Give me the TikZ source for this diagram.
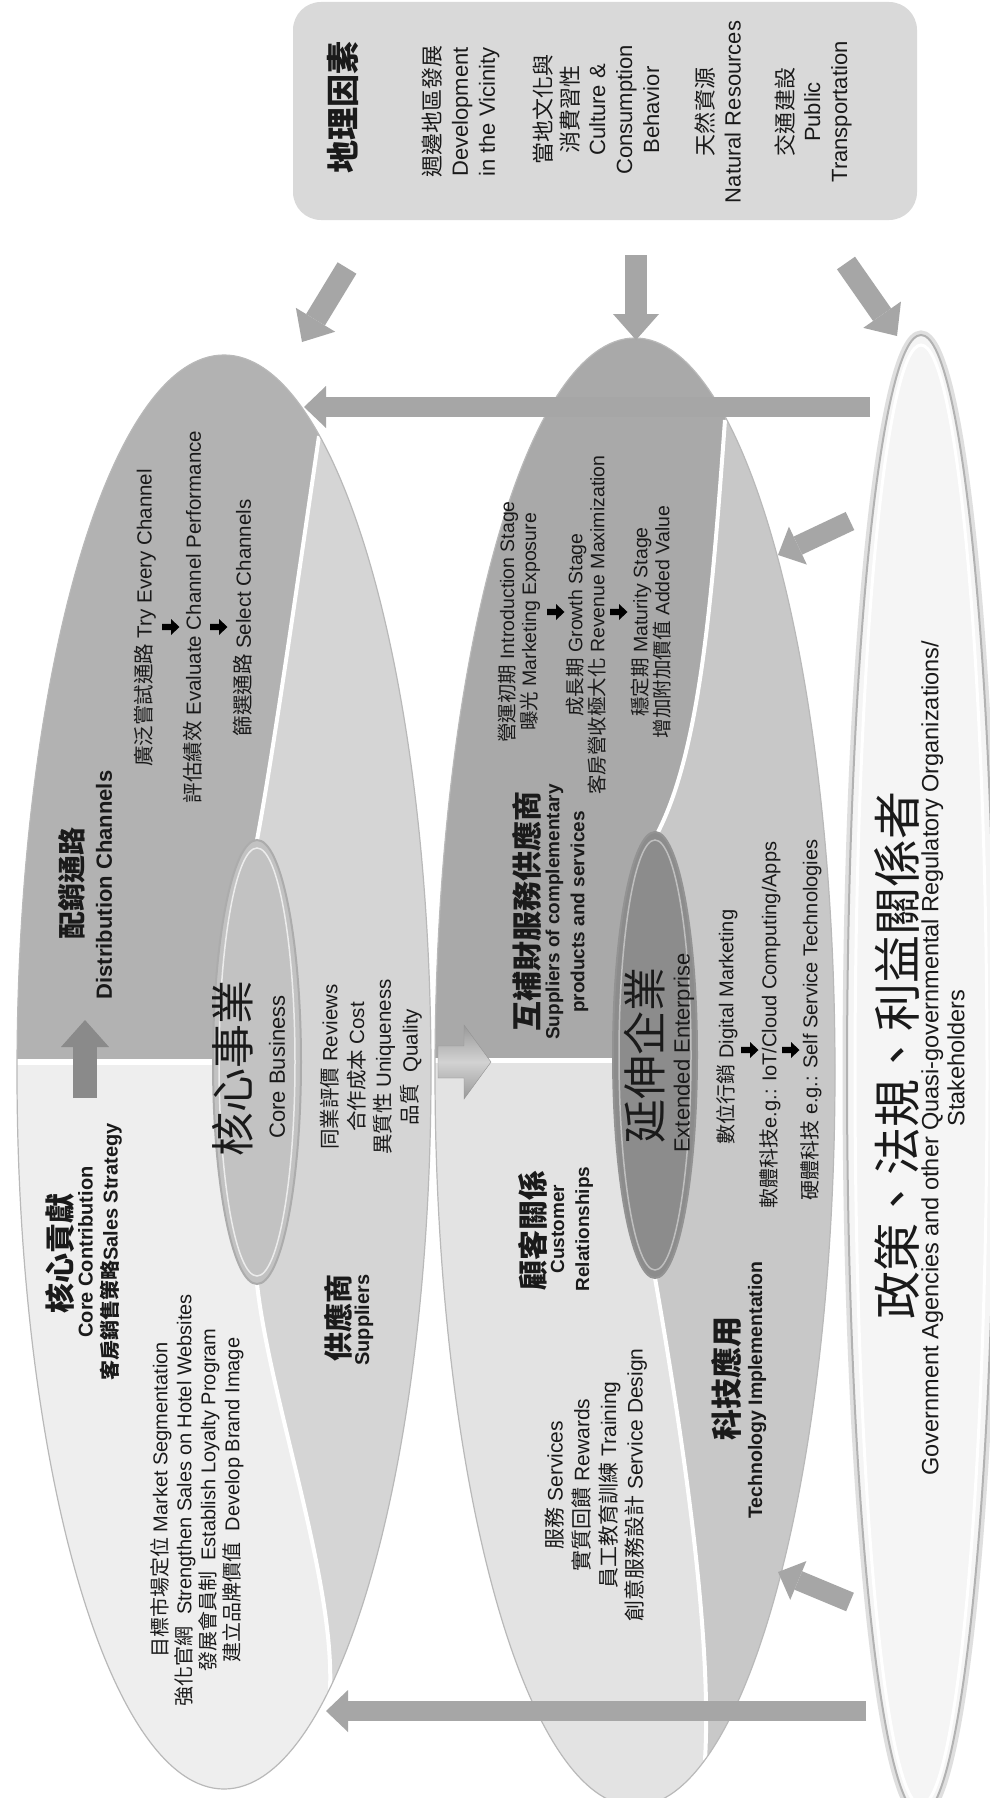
\documentclass[tikz,border=0pt]{standalone}
\usepackage{fontspec}
\setmainfont{Liberation Sans}
\newfontfamily\cjk{Noto Sans CJK TC}
\usetikzlibrary{arrows.meta}
\definecolor{boxgray}{HTML}{D9D9D9}
\definecolor{arrgray}{HTML}{A6A6A6}
\definecolor{darrgray}{HTML}{8A8A8A}
\definecolor{distgray}{HTML}{B2B2B2}
\definecolor{contgray}{HTML}{EEEEEE}
\definecolor{supgray}{HTML}{D5D5D5}
\definecolor{coregray}{HTML}{C2C2C2}
\definecolor{compgray}{HTML}{A9A9A9}
\definecolor{custgray}{HTML}{E3E3E3}
\definecolor{techgray}{HTML}{C8C8C8}
\definecolor{extgray}{HTML}{8C8C8C}
\definecolor{govgray}{HTML}{F5F5F5}
\definecolor{ink}{HTML}{1A1A1A}
\newcommand\zh[1]{{\cjk #1}}
\newcommand\fs[2]{\fontsize{#1}{#2}\selectfont}
\tikzset{
  txt/.style={rotate=90, align=center, inner sep=0pt, text=ink},
  blockarrow/.style={draw=arrgray, line width=22pt, -{Triangle[width=46pt,length=26pt,line width=0pt]}},
  harrow/.style={draw=arrgray, line width=20pt, -{Triangle[width=42pt,length=22pt,line width=0pt]}},
  uparrow/.style={draw=darrgray, line width=24pt, -{Triangle[width=48pt,length=27pt,line width=0pt]}},
  smallarrow/.pic={\fill[black] (-8,-3.2) -- (1,-3.2) -- (1,-8) -- (9.5,0) -- (1,8) -- (1,3.2) -- (-8,3.2) -- cycle;},
  hilite/.style={white, line width=4pt},
  rim/.style={gray!55, line width=1.2pt},
}
\begin{document}
\begin{tikzpicture}[x=1pt,y=-1pt]
\useasboundingbox (0,0) rectangle (989,1798);
\fill[white] (0,0) rectangle (989,1798);

% ---------- geographic factors box
\node[fill=boxgray, rounded corners=28pt, minimum width=624pt, minimum height=218pt, inner sep=0pt] (geo) at (605,111) {};

% ---------- left shape (E1)
\begin{scope}
  \clip (224,1072) ellipse [x radius=207, y radius=717];
  \fill[supgray] (0,300) rectangle (450,1800);
  \begin{scope}
    \clip (0,300) -- (319,300) -- (319,436) .. controls (295,600) and (272,760) .. (257,840) -- (257,1284) .. controls (270,1400) and (335,1580) .. (330,1690) -- (330,1800) -- (0,1800) -- cycle;
    \fill[distgray] (0,300) rectangle (450,1062);
    \fill[contgray] (0,1062) rectangle (450,1800);
  \end{scope}
  \draw[hilite] (319,436) .. controls (295,600) and (272,760) .. (257,840);
  \draw[hilite] (257,1284) .. controls (270,1400) and (335,1580) .. (330,1690);
  \draw[gray!60, line width=2pt] (0,1056) -- (257,1056);
  \draw[white, line width=6pt] (0,1062) -- (257,1062);
\end{scope}
\draw[rim] (224,1072) ellipse [x radius=207, y radius=717];

% ---------- middle shape (E2)
\begin{scope}
  \clip (635,1072) ellipse [x radius=200, y radius=734];
  \fill[techgray] (400,300) rectangle (850,1820);
  \begin{scope}
    \clip (400,300) -- (725,300) -- (725,420) .. controls (712,600) and (700,750) .. (658,832) -- (655,1278) .. controls (685,1450) and (712,1640) .. (705,1760) -- (705,1820) -- (400,1820) -- cycle;
    \fill[compgray] (400,300) rectangle (850,1060);
    \fill[custgray] (400,1060) rectangle (850,1820);
  \end{scope}
  \draw[hilite] (725,420) .. controls (712,600) and (700,750) .. (658,832);
  \draw[hilite] (655,1278) .. controls (685,1450) and (712,1640) .. (705,1760);
  \draw[white, line width=5pt] (400,1060) -- (655,1060);
\end{scope}
\draw[rim] (635,1072) ellipse [x radius=200, y radius=734];

% ---------- right shape (E3)
\draw[gray!25, line width=9pt] (921,1075) ellipse [x radius=74, y radius=740];
\fill[govgray] (921,1075) ellipse [x radius=74, y radius=740];
\draw[gray!60, line width=2pt] (921,1075) ellipse [x radius=74, y radius=740];
\draw[white, line width=3pt] (921,1075) ellipse [x radius=66, y radius=730];

% ---------- core and extended ellipses
\fill[coregray] (257,1062) ellipse [x radius=44, y radius=222];
\draw[gray!65, line width=2pt] (257,1062) ellipse [x radius=44, y radius=222];
\draw[white!85!gray, line width=1.5pt] (257,1062) ellipse [x radius=38, y radius=214];
\fill[extgray] (655,1055) ellipse [x radius=42, y radius=223];
\draw[gray!85, line width=2pt] (655,1055) ellipse [x radius=42, y radius=223];
\draw[gray!50, line width=1.5pt] (655,1055) ellipse [x radius=36, y radius=215];

% ---------- arrows
\coordinate (a1s) at (347,268); \coordinate (a1e) at (302,342);
\coordinate (a2s) at (636,255); \coordinate (a2e) at (636,340);
\coordinate (a3s) at (846,263); \coordinate (a3e) at (897,336);
\draw[blockarrow] (a1s) -- (a1e);
\draw[blockarrow] (a2s) -- (a2e);
\draw[blockarrow] (a3s) -- (a3e);
\coordinate (h1s) at (870,407); \coordinate (h1e) at (304,407);
\coordinate (h2s) at (866,1711); \coordinate (h2e) at (326,1711);
\draw[harrow] (h1s) -- (h1e);
\draw[harrow] (h2s) -- (h2e);
\coordinate (r1s) at (850,521); \coordinate (r1e) at (778,555);
\coordinate (r2s) at (850,1602); \coordinate (r2e) at (778,1572);
\draw[harrow] (r1s) -- (r1e);
\draw[harrow] (r2s) -- (r2e);
\coordinate (us) at (85,1098); \coordinate (ue) at (85,1020);
\draw[uparrow] (us) -- (ue);
\shade[top color=gray!80, bottom color=gray!80, middle color=gray!35, draw=gray!85]
  (438,1046) -- (464,1046) -- (464,1025) -- (491,1062) -- (464,1099) -- (464,1078) -- (438,1078) -- cycle;

% ---------- texts: geographic box
\node[txt, font=\bfseries\fs{33}{36}] (gt) at (343,108) {\zh{地理因素}};
\node[txt, font=\fs{22}{27}] (g1) at (461,112) {\zh{週邊地區發展}\\Development\\in the Vicinity};
\node[txt, font=\fs{22}{27}] (g2) at (596,110) {\zh{當地文化與}\\\zh{消費習性}\\Culture \&\\Consumption\\Behavior};
\node[txt, font=\fs{22}{27}] (g3) at (718,112) {\zh{天然資源}\\Natural Resources};
\node[txt, font=\fs{22}{27}] (g4) at (813,112) {\zh{交通建設}\\Public\\Transportation};

% ---------- distribution channels
\node[txt, font=\bfseries\fs{28}{30}] (dct) at (72,883) {\zh{配銷通路}};
\node[txt, font=\bfseries\fs{22}{24}] (dce) at (104,885) {Distribution Channels};
\node[txt, font=\fs{20.5}{24}] (dl1) at (145,618) {\zh{廣泛嘗試通路} Try Every Channel};
\node[txt, font=\fs{20.5}{24}] (dl2) at (193,617) {\zh{評估績效} Evaluate Channel Performance};
\node[txt, font=\fs{20.5}{24}] (dl3) at (243,618) {\zh{篩選通路} Select Channels};
\pic at (170,627) {smallarrow};
\pic at (218,627) {smallarrow};

% ---------- core contribution
\node[txt, font=\bfseries\fs{30}{32}] (cct) at (60,1253) {\zh{核心貢獻}};
\node[txt, font=\bfseries\fs{20}{25}] (cce) at (100,1252) {Core Contribution\\\zh{客房銷售策略}Sales Strategy};
\node[txt, font=\fs{20}{24}] (ccl) at (197,1500) {\zh{目標市場定位} Market Segmentation\\\zh{強化官網}\ \ Strengthen Sales on Hotel Websites\\\zh{發展會員制}\ \ Establish Loyalty Program\\\zh{建立品牌價值}\ \ Develop Brand Image};

% ---------- suppliers
\node[txt, font=\bfseries\fs{29}{30}] (spt) at (338,1318) {\zh{供應商}};
\node[txt, font=\bfseries\fs{20}{22}] (spe) at (364,1320) {Suppliers};

% ---------- core business
\node[txt, font=\fs{44}{46}] (cbt) at (233,1068) {\zh{核心事業}};
\node[txt, font=\fs{22}{24}] (cbe) at (277,1067) {Core Business};
\node[txt, font=\fs{20.5}{26.7}] (cbl) at (371,1067) {\zh{同業評價} Reviews\\\zh{合作成本} Cost\\\zh{異質性} Uniqueness\\\zh{品質}\ \ Quality};

% ---------- complementary suppliers
\node[txt, font=\bfseries\fs{30}{32}] (cst) at (527,911) {\zh{互補財服務供應商}};
\node[txt, font=\bfseries\fs{19}{25}] (cse) at (567,912) {Suppliers of complementary\\products and services};
\node[txt, font=\fs{19.5}{22}] (lc1) at (519,622) {\zh{營運初期} Introduction Stage\\\zh{曝光} Marketing Exposure};
\node[txt, font=\fs{19.5}{22}] (lc2) at (586,625) {\zh{成長期} Growth Stage\\\zh{客房營收極大化} Revenue Maximization};
\node[txt, font=\fs{19.5}{22}] (lc3) at (651,622) {\zh{穩定期} Maturity Stage\\\zh{增加附加價值} Added Value};
\pic at (555,612) {smallarrow};
\pic at (618,612) {smallarrow};

% ---------- customer relationships
\node[txt, font=\bfseries\fs{30}{32}] (crt) at (533,1230) {\zh{顧客關係}};
\node[txt, font=\bfseries\fs{19}{25}] (cre) at (572,1229) {Customer\\Relationships};
\node[txt, font=\fs{21}{26.7}] (svl) at (596,1485) {\zh{服務} Services\\\zh{實質回饋} Rewards\\\zh{員工教育訓練} Training\\\zh{創意服務設計} Service Design};

% ---------- extended enterprise
\node[txt, font=\fs{44}{46}] (eet) at (645,1055) {\zh{延伸企業}};
\node[txt, font=\fs{22}{24}] (eee) at (684,1053) {Extended Enterprise};

% ---------- technology implementation
\node[txt, font=\fs{20}{22}] (t1) at (727,1027) {\zh{數位行銷} Digital Marketing};
\node[txt, font=\fs{20}{22}] (t2) at (770,1025) {\zh{軟體科技}e.g.: IoT/Cloud Computing/Apps};
\node[txt, font=\fs{20}{22}] (t3) at (811,1020) {\zh{硬體科技} e.g.: Self Service Technologies};
\pic at (749,1050) {smallarrow};
\pic at (790,1050) {smallarrow};
\node[txt, font=\bfseries\fs{31}{33}] (tit) at (727,1378) {\zh{科技應用}};
\node[txt, font=\bfseries\fs{19.5}{22}] (tie) at (757,1390) {Technology Implementation};

% ---------- government
\node[txt, font=\fs{48}{50}] (gvt) at (897,1055) {\zh{政策、法規、利益關係者}};
\node[txt, font=\fs{23.5}{26}] (gve) at (943,1058) {Government Agencies and other Quasi-governmental Regulatory Organizations/\\Stakeholders};
\end{tikzpicture}
\end{document}
